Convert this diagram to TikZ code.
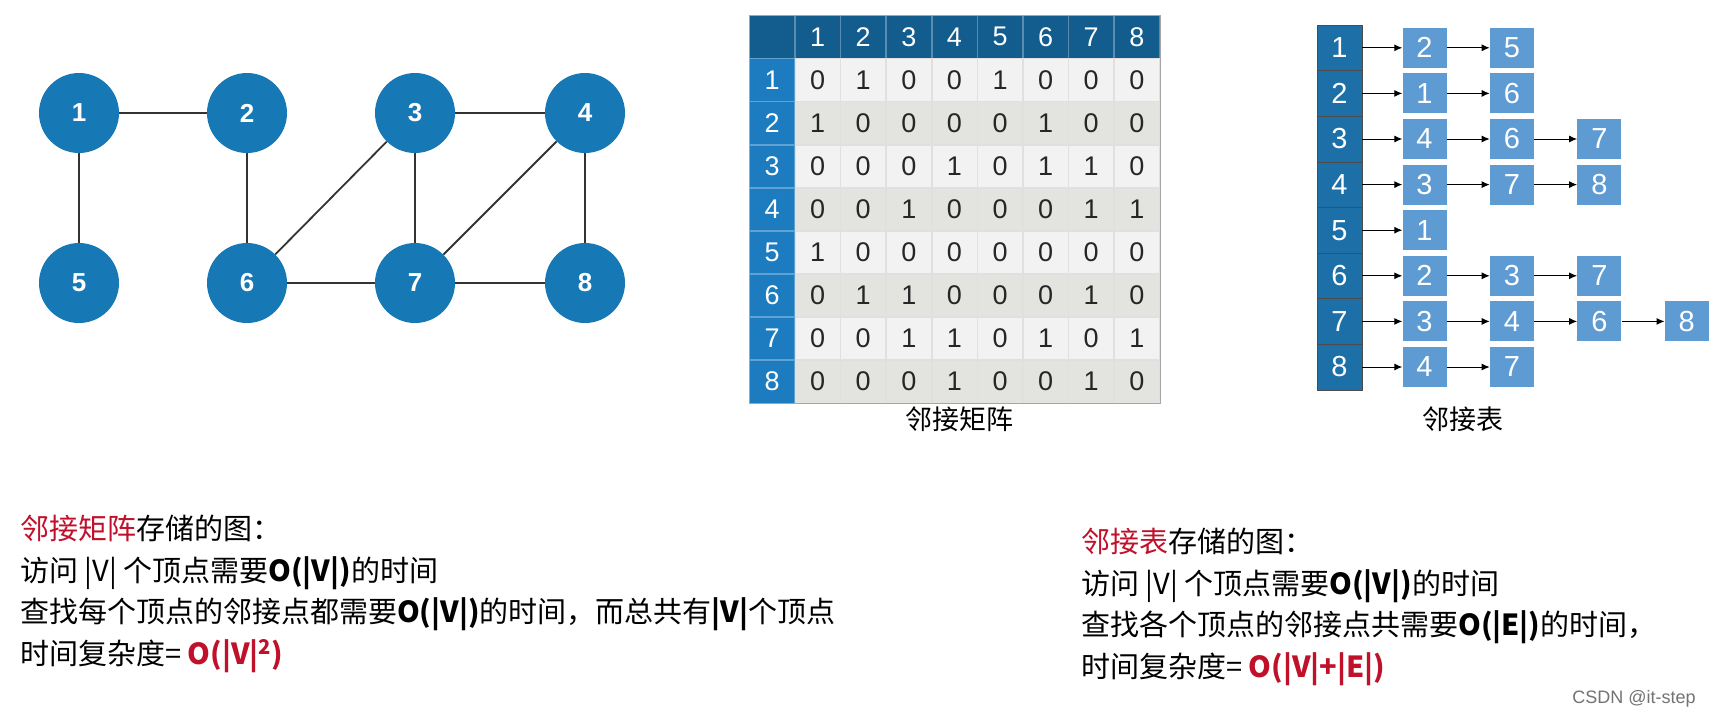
\documentclass[tikz,border=0pt]{standalone}
\usepackage{fontspec}
\setmainfont{Liberation Sans}
\newfontfamily\cjk{Noto Sans CJK SC}
\usetikzlibrary{arrows.meta,positioning,matrix}
\usepackage{xcolor}
\definecolor{cnode}{HTML}{1778B6}
\definecolor{ctop}{HTML}{125C8E}
\definecolor{cside}{HTML}{1C7CBF}
\definecolor{chead}{HTML}{1D6FA8}
\definecolor{citem}{HTML}{5E9BD3}
\definecolor{crowa}{HTML}{F2F2F2}
\definecolor{crowb}{HTML}{E3E3E0}
\definecolor{cred}{HTML}{C0102A}
\tikzset{
  vnode/.style={circle, fill=cnode, minimum size=80pt, inner sep=0pt, text=white,
    font=\fontsize{26}{26}\selectfont\bfseries},
  vedge/.style={draw=black!80, line width=1.8pt},
  mcell/.style={rectangle, anchor=center, minimum width=45pt, minimum height=42.5pt, inner sep=0pt,
    draw=black!12, line width=0.6pt, font=\fontsize{27}{27}\selectfont, text=black!85},
  mtop/.style={fill=ctop, text=white, draw=ctop!70!white},
  mside/.style={fill=cside, text=white, draw=cside!70!white},
  lhead/.style={rectangle, fill=chead, draw=black!70, line width=0.6pt, text=white,
    minimum width=45pt, minimum height=45.6pt, inner sep=0pt, font=\fontsize{29}{29}\selectfont},
  litem/.style={rectangle, fill=citem, text=white, minimum width=44pt, minimum height=40pt,
    inner sep=0pt, font=\fontsize{29}{29}\selectfont},
  larrow/.style={-{Latex[length=8pt,width=7pt]}, line width=1pt},
  capt/.style={font=\cjk\fontsize{27}{27}\selectfont},
  note/.style={anchor=base west, align=left, inner sep=0pt, font=\cjk\fontsize{29}{41.5}\selectfont},
  wmark/.style={text=black!55, font=\fontsize{18}{18}\selectfont},
}
\newcommand{\hl}[1]{\textcolor{cred}{#1}}

\begin{document}
\begin{tikzpicture}[x=1pt, y=-1pt]
  \path[use as bounding box, fill=white] (0,0) rectangle (1712,723);

  % graph
  \node[vnode] (v1) at (79,113) {1};
  \node[vnode] (v2) at (247,113) {2};
  \node[vnode] (v3) at (415,113) {3};
  \node[vnode] (v4) at (585,113) {4};
  \node[vnode] (v5) at (79,283) {5};
  \node[vnode] (v6) at (247,283) {6};
  \node[vnode] (v7) at (415,283) {7};
  \node[vnode] (v8) at (585,283) {8};
  \draw[vedge] (v1) -- (v2);
  \draw[vedge] (v1) -- (v5);
  \draw[vedge] (v2) -- (v6);
  \draw[vedge] (v3) -- (v4);
  \draw[vedge] (v3) -- (v6);
  \draw[vedge] (v3) -- (v7);
  \draw[vedge] (v4) -- (v7);
  \draw[vedge] (v4) -- (v8);
  \draw[vedge] (v6) -- (v7);
  \draw[vedge] (v7) -- (v8);

  % adjacency matrix
  \matrix[matrix of nodes, nodes in empty cells, anchor=north west, inner sep=0pt,
    column sep=0pt, row sep=0pt, nodes={mcell, fill=crowa},
    row 1/.style={nodes={mtop}}, row 3/.style={nodes={fill=crowb}},
    row 5/.style={nodes={fill=crowb}}, row 7/.style={nodes={fill=crowb}},
    row 9/.style={nodes={fill=crowb}}] (am) at (749,15) {
             & 1 & 2 & 3 & 4 & 5 & 6 & 7 & 8 \\
    |[mside]| 1 & 0 & 1 & 0 & 0 & 1 & 0 & 0 & 0 \\
    |[mside]| 2 & 1 & 0 & 0 & 0 & 0 & 1 & 0 & 0 \\
    |[mside]| 3 & 0 & 0 & 0 & 1 & 0 & 1 & 1 & 0 \\
    |[mside]| 4 & 0 & 0 & 1 & 0 & 0 & 0 & 1 & 1 \\
    |[mside]| 5 & 1 & 0 & 0 & 0 & 0 & 0 & 0 & 0 \\
    |[mside]| 6 & 0 & 1 & 1 & 0 & 0 & 0 & 1 & 0 \\
    |[mside]| 7 & 0 & 0 & 1 & 1 & 0 & 1 & 0 & 1 \\
    |[mside]| 8 & 0 & 0 & 0 & 1 & 0 & 0 & 1 & 0 \\
  };
  \draw[black!35, line width=0.6pt] (am.north west) rectangle (am.south east);
  \node[capt] (capm) at (959,419) {邻接矩阵};

  % adjacency list
  \foreach \r in {1,...,8}
    \node[lhead] (hd\r) at (1339.5,{25+45.6*(\r-0.5)}) {\r};
  \foreach \r/\lst in {1/{2,5}, 2/{1,6}, 3/{4,6,7}, 4/{3,7,8}, 5/{1},
                       6/{2,3,7}, 7/{3,4,6,8}, 8/{4,7}} {
    \foreach \v [count=\c, remember=\c as \p (initially 0)] in \lst {
      \ifnum\c=1
        \node[litem, right=40pt of hd\r] (l\r-\c) {\v};
        \draw[larrow] (hd\r) -- (l\r-\c);
      \else
        \node[litem, right=43pt of l\r-\p] (l\r-\c) {\v};
        \draw[larrow] (l\r-\p) -- (l\r-\c);
      \fi
    }
  }
  \node[capt] (capl) at (1463,419) {邻接表};

  % notes (anchored on the last line)
  \node[note] (notem) at (20,664) {\hl{邻接矩阵}存储的图：\\
    访问 |V| 个顶点需要\textbf{O(|V|)}的时间\\
    查找每个顶点的邻接点都需要\textbf{O(|V|)}的时间，而总共有\textbf{|V|}个顶点\\
    时间复杂度= \hl{\textbf{O(|V|\textsuperscript{2})}}};
  \node[note] (notel) at (1081,677) {\hl{邻接表}存储的图：\\
    访问 |V| 个顶点需要\textbf{O(|V|)}的时间\\
    查找各个顶点的邻接点共需要\textbf{O(|E|)}的时间，\\
    时间复杂度= \hl{\textbf{O(|V|+|E|)}}};
  \node[wmark] (wm) at (1634,699) {CSDN @it-step};
\end{tikzpicture}
\end{document}
